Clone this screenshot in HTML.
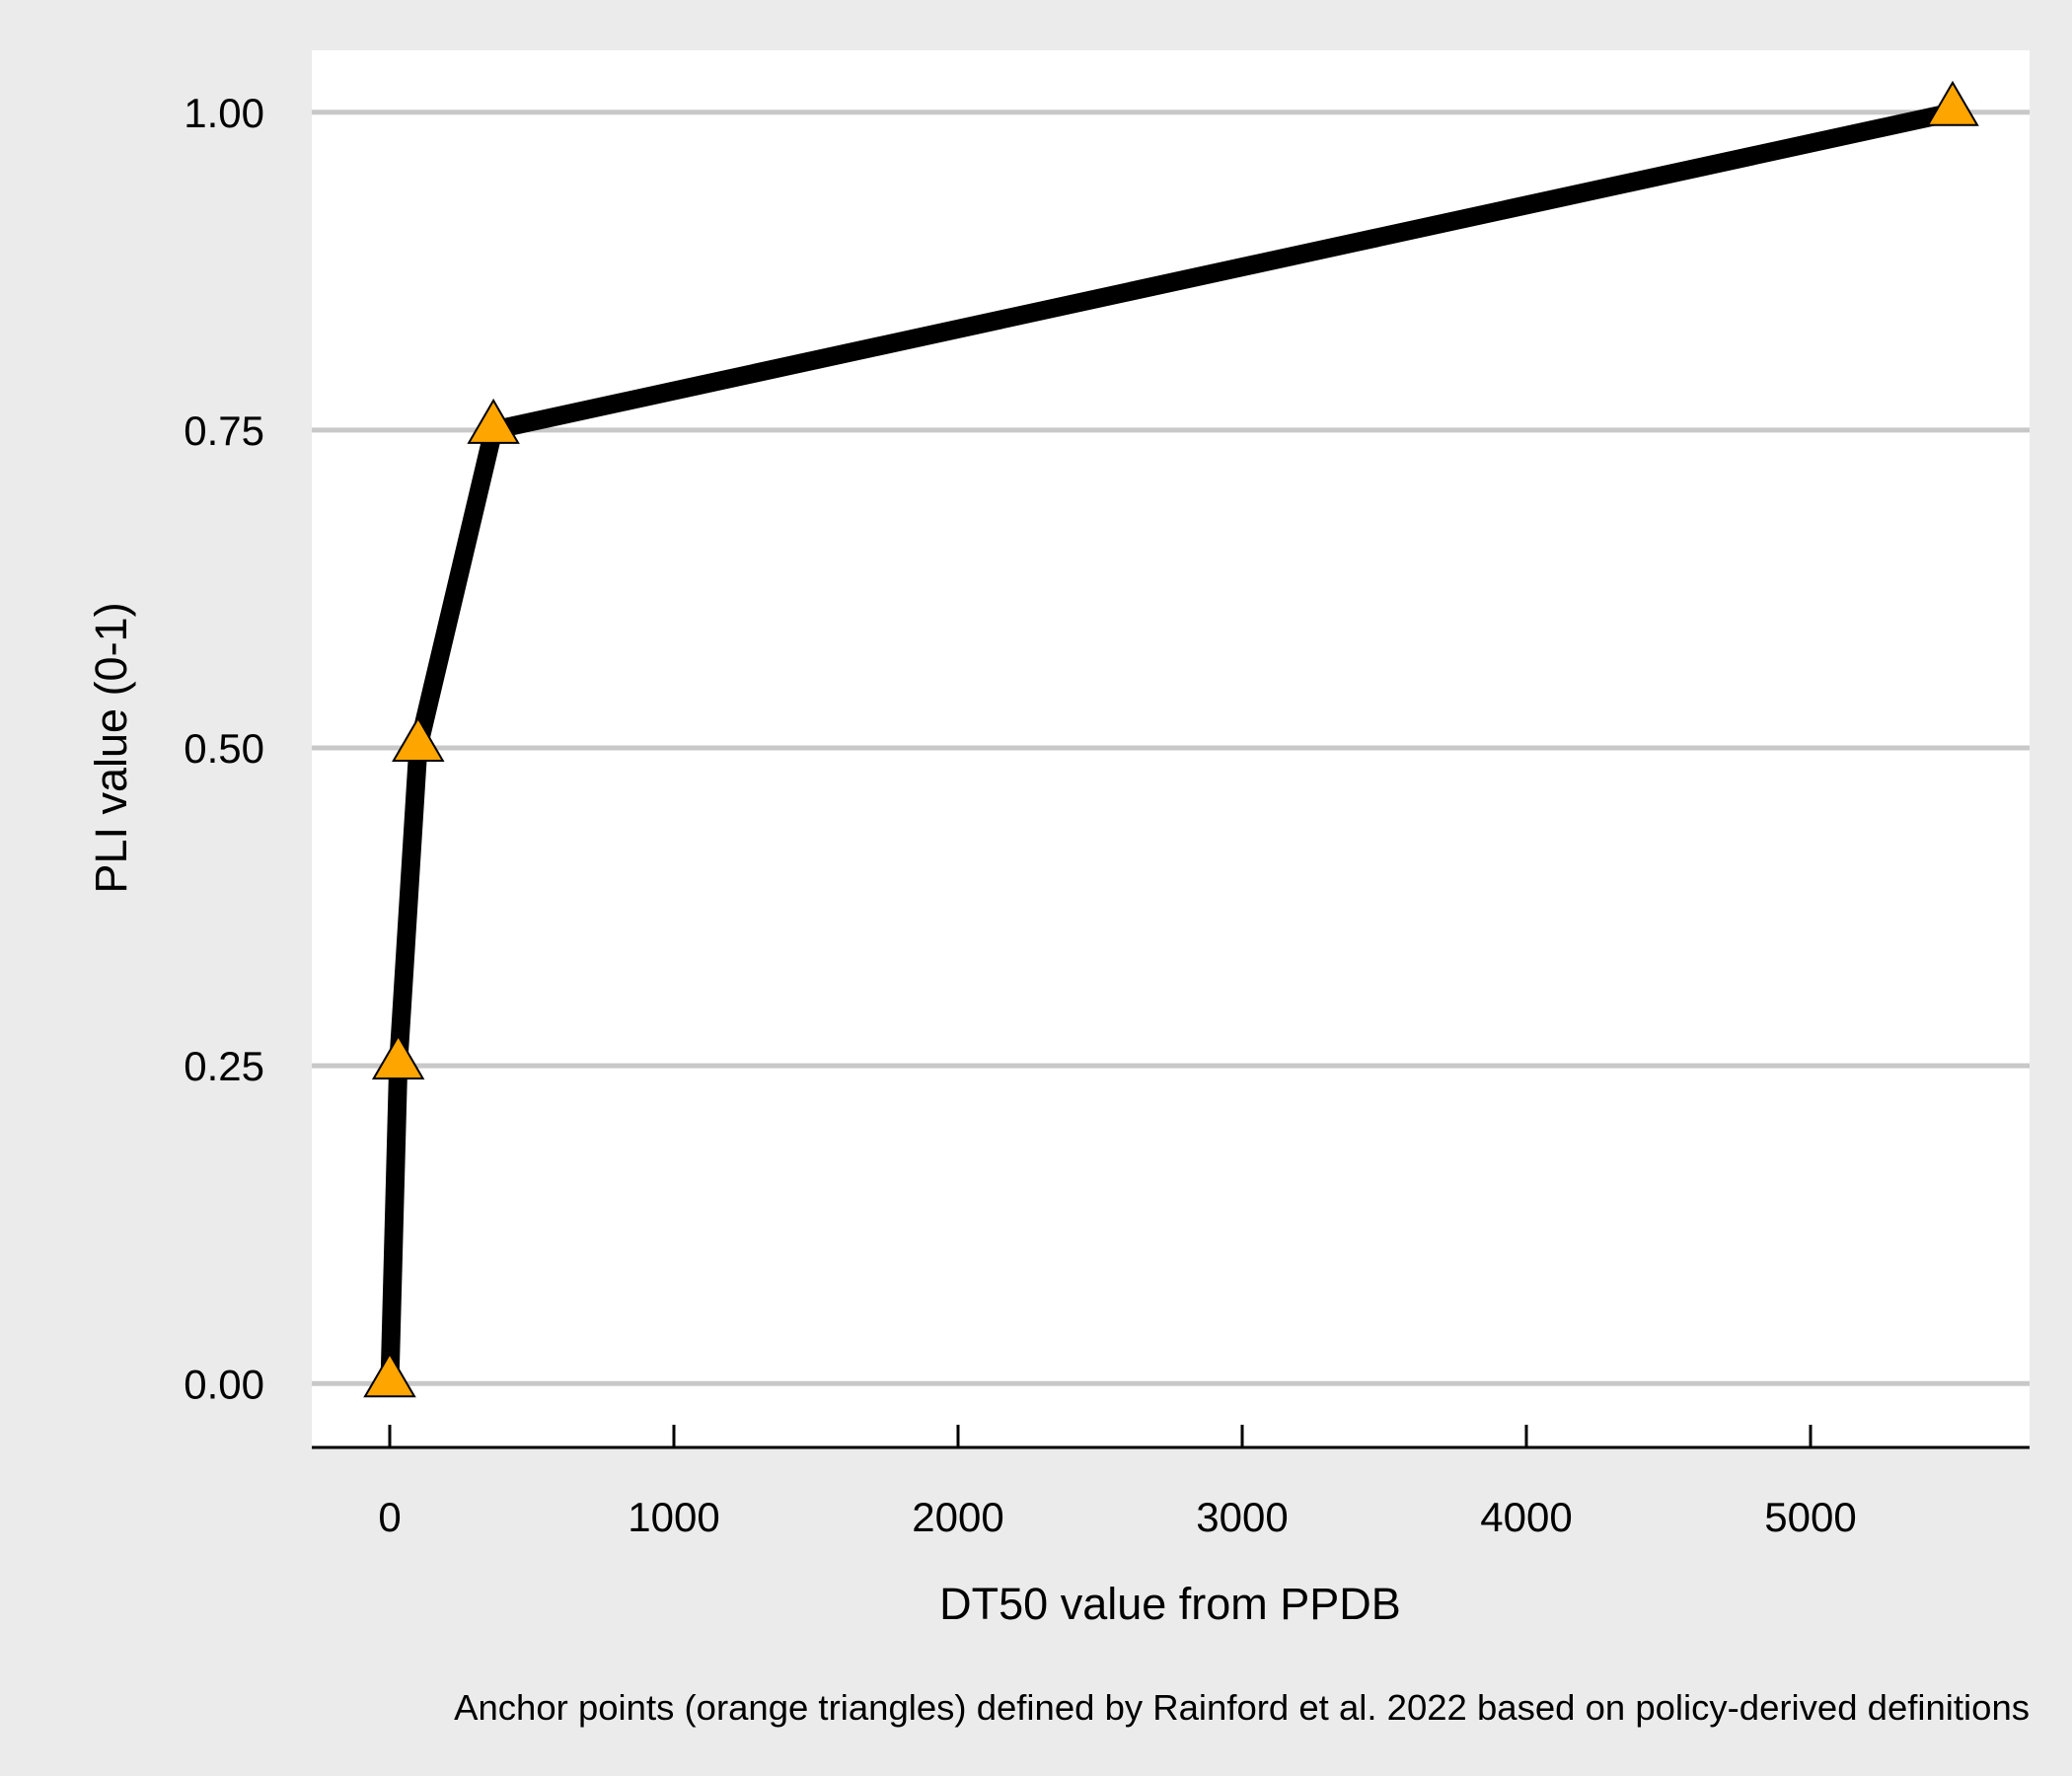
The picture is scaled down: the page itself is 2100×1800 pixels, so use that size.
<!DOCTYPE html>
<html><head><meta charset="utf-8"><style>
html,body{margin:0;padding:0;background:#ebebeb;}
svg{display:block;font-family:"Liberation Sans",Arial,sans-serif;}
</style></head><body>
<svg id="chart" width="2100" height="1800" viewBox="0 0 2100 1800">
<rect x="0" y="0" width="2100" height="1800" fill="#ebebeb"/>
<rect x="316" y="51" width="1741" height="1416" fill="#ffffff"/>
<g id="grid"></g>
<g id="series"></g>
<g id="axes"></g>
<text x="1186" y="1641" font-size="45" text-anchor="middle" fill="#000">DT50 value from PPDB</text>
<text transform="translate(128,758) rotate(-90)" font-size="45" text-anchor="middle" fill="#000">PLI value (0-1)</text>
<text x="2057" y="1743" font-size="36.5" text-anchor="end" fill="#000">Anchor points (orange triangles) defined by Rainford et al. 2022 based on policy-derived definitions</text>
</svg>
<script>
const xValues = [0, 30, 100, 365, 5500];
const yValues = [0, 0.25, 0.5, 0.75, 1.0];
const xTicks = [0, 1000, 2000, 3000, 4000, 5000];
const yTicks = [0, 0.25, 0.5, 0.75, 1.0];
const yTickLabels = ["0.00", "0.25", "0.50", "0.75", "1.00"];

const NS = "http://www.w3.org/2000/svg";
function xs(v){ return 395 + v * 0.288; }
function ys(v){ return 1402.3 - v * 1288.5; }
function mk(tag, attrs, parent){
  const e = document.createElementNS(NS, tag);
  for (const k in attrs) e.setAttribute(k, attrs[k]);
  parent.appendChild(e);
  return e;
}
const grid = document.getElementById('grid');
const axes = document.getElementById('axes');
const series = document.getElementById('series');

yTicks.forEach((t, i) => {
  const l = mk('line', {x1:316, x2:2057, y1:ys(t), y2:ys(t), stroke:'#c8c8c8', 'stroke-width':5}, grid);
  
  
  const tx = mk('text', {x:268, y:ys(t)+15, 'font-size':42, 'text-anchor':'end', fill:'#000'}, axes);
  tx.textContent = yTickLabels[i];
  
  
});

const axl = mk('line', {x1:316, x2:2057, y1:1467, y2:1467, stroke:'#000', 'stroke-width':3}, axes);


xTicks.forEach(t => {
  const tk = mk('line', {x1:xs(t), x2:xs(t), y1:1444, y2:1467, stroke:'#000', 'stroke-width':3}, axes);
  
  
  const tx = mk('text', {x:xs(t), y:1552, 'font-size':42, 'text-anchor':'middle', fill:'#000'}, axes);
  tx.textContent = String(t);
  
  
});

const pts = xValues.map((x, i) => xs(x) + ',' + ys(yValues[i])).join(' ');
const line = mk('polyline', {points:pts, fill:'none', stroke:'#000', 'stroke-width':19, 'stroke-linejoin':'round', 'stroke-linecap':'round'}, series);



xValues.forEach((x, i) => {
  const cx = xs(x), cy = ys(yValues[i]);
  const tri = mk('polygon', {points:(cx)+','+(cy-30)+' '+(cx-25)+','+(cy+13)+' '+(cx+25)+','+(cy+13), fill:'#ffa500', stroke:'#000', 'stroke-width':2}, series);
  
  
});
</script>
</body></html>
